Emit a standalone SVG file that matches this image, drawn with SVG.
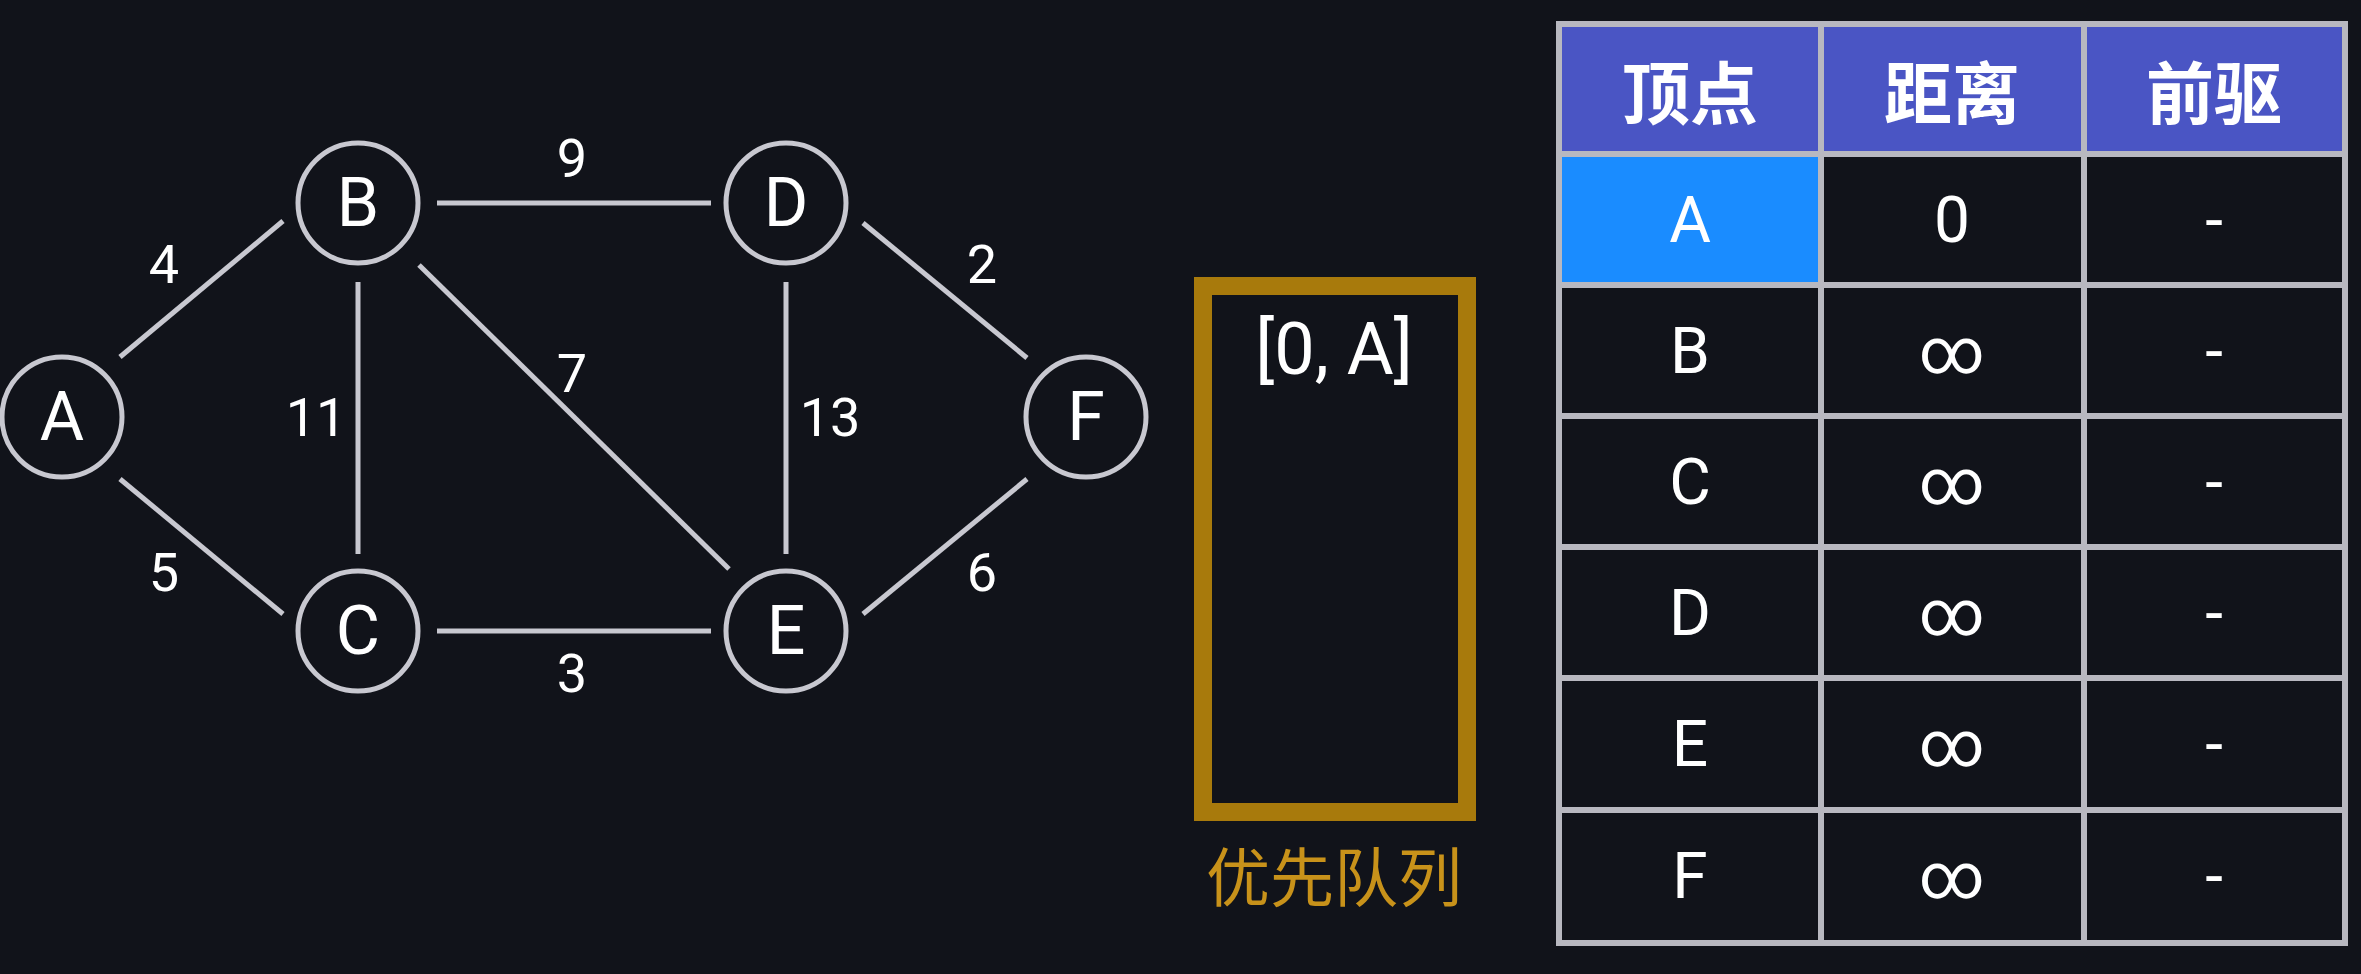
<svg xmlns="http://www.w3.org/2000/svg" width="2361" height="974" viewBox="0 0 2361 974">
<style>
.n{fill:none;stroke:#c8c8d0;stroke-width:5}
.nt{font-family:'Roboto','Liberation Sans',sans-serif;font-size:68px;fill:#fff;text-anchor:middle;dominant-baseline:central}
.e{stroke:#c8c8d0;stroke-width:5}
.w{font-family:'Roboto','Liberation Sans',sans-serif;font-size:54px;fill:#fff;text-anchor:middle;dominant-baseline:central}
.c{font-family:'Roboto','Liberation Sans',sans-serif;font-size:64px;fill:#fff;text-anchor:middle;dominant-baseline:central}
.h{font-family:'Noto Sans CJK SC',sans-serif;font-size:68px;font-weight:bold;fill:#fff;text-anchor:middle;dominant-baseline:central}
.g{stroke:#b8b8c0;stroke-width:6}
</style>
<rect width="2361" height="974" fill="#11131a"/>
<g id="connectors">
<line class="e" x1="120" y1="357" x2="283" y2="221"/>
<line class="e" x1="437" y1="203" x2="711" y2="203"/>
<line class="e" x1="358" y1="282" x2="358" y2="554"/>
<line class="e" x1="419" y1="265" x2="729" y2="569"/>
<line class="e" x1="786" y1="282" x2="786" y2="554"/>
<line class="e" x1="863" y1="223" x2="1027" y2="358"/>
<line class="e" x1="437" y1="631" x2="711" y2="631"/>
<line class="e" x1="120" y1="479" x2="283" y2="614"/>
<line class="e" x1="863" y1="614" x2="1027" y2="479"/>
<text class="w" x="164" y="264">4</text>
<text class="w" x="572" y="158">9</text>
<text class="w" x="982" y="264">2</text>
<text class="w" x="316" y="417">11</text>
<text class="w" x="572" y="373">7</text>
<text class="w" x="830" y="417">13</text>
<text class="w" x="164" y="572">5</text>
<text class="w" x="572" y="673">3</text>
<text class="w" x="982" y="572">6</text>
</g>
<g id="A"><circle class="n" cx="62" cy="417" r="60"/><text class="nt" x="62" y="417">A</text></g>
<g id="B"><circle class="n" cx="358" cy="203" r="60"/><text class="nt" x="358" y="203">B</text></g>
<g id="C"><circle class="n" cx="358" cy="631" r="60"/><text class="nt" x="358" y="631">C</text></g>
<g id="D"><circle class="n" cx="786" cy="203" r="60"/><text class="nt" x="786" y="203">D</text></g>
<g id="E"><circle class="n" cx="786" cy="631" r="60"/><text class="nt" x="786" y="631">E</text></g>
<g id="F"><circle class="n" cx="1086" cy="417" r="60"/><text class="nt" x="1086" y="417">F</text></g>
<g id="queue">
<rect x="1203" y="286" width="264" height="526" fill="none" stroke="#a87a0c" stroke-width="18"/>
<text x="1334" y="349" font-family="Roboto,'Liberation Sans',sans-serif" font-size="72" fill="#fff" text-anchor="middle" dominant-baseline="central">[0, A]</text>
<text x="1334" y="873" font-family="'Noto Sans CJK SC',sans-serif" font-size="64" fill="#c8921a" text-anchor="middle" dominant-baseline="central">优先队列</text>
</g>
<g id="table">
<rect x="1559" y="24" width="786" height="130" fill="#4a55c4"/>
<rect x="1559" y="154" width="262" height="131" fill="#1a8cff"/>
<g class="g">
<line x1="1559" y1="24" x2="1559" y2="943"/><line x1="1821" y1="24" x2="1821" y2="943"/><line x1="2084" y1="24" x2="2084" y2="943"/><line x1="2345" y1="24" x2="2345" y2="943"/>
<line x1="1556" y1="24" x2="2348" y2="24"/><line x1="1556" y1="154" x2="2348" y2="154"/><line x1="1556" y1="285" x2="2348" y2="285"/><line x1="1556" y1="416" x2="2348" y2="416"/><line x1="1556" y1="547" x2="2348" y2="547"/><line x1="1556" y1="678" x2="2348" y2="678"/><line x1="1556" y1="810" x2="2348" y2="810"/><line x1="1556" y1="943" x2="2348" y2="943"/>
</g>
<text class="h" x="1690" y="89">顶点</text><text class="h" x="1952" y="89">距离</text><text class="h" x="2214" y="89">前驱</text>
<text class="c" x="1690" y="220">A</text><text class="c" x="1952" y="220">0</text><text class="c" x="2214" y="220">-</text>
<text class="c" x="1690" y="351">B</text><text class="c" x="1952" y="351">∞</text><text class="c" x="2214" y="351">-</text>
<text class="c" x="1690" y="482">C</text><text class="c" x="1952" y="482">∞</text><text class="c" x="2214" y="482">-</text>
<text class="c" x="1690" y="613">D</text><text class="c" x="1952" y="613">∞</text><text class="c" x="2214" y="613">-</text>
<text class="c" x="1690" y="744">E</text><text class="c" x="1952" y="744">∞</text><text class="c" x="2214" y="744">-</text>
<text class="c" x="1690" y="876">F</text><text class="c" x="1952" y="876">∞</text><text class="c" x="2214" y="876">-</text>
</g>
</svg>
